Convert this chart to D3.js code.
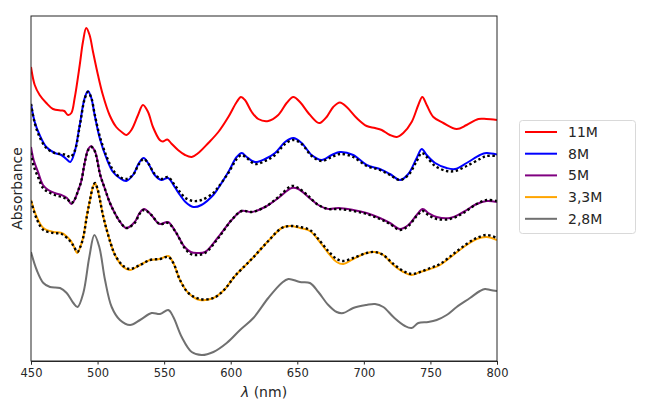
<!DOCTYPE html>
<html>
<head>
<meta charset="utf-8">
<script src="https://cdn.jsdelivr.net/npm/d3@7"></script>
<style>
  html, body { margin: 0; padding: 0; background: #fff; }
  svg { display: block; font-family: "DejaVu Sans", sans-serif; }
</style>
</head>
<body>
<svg id="chart" width="645" height="402"></svg>
<script>
// ---------- data ----------
const xTicks = [450, 500, 550, 600, 650, 700, 750, 800];
const seriesNames = ["11M", "8M", "5M", "3,3M", "2,8M"];
const seriesColors = ["#ff0000", "#0000ff", "#800080", "#ffa500", "#707070"];

const lam11 = [450,452.8,456.5,461.5,466.5,472.8,475,477.8,480.3,482.8,486.6,489,491.5,494,496.6,500.3,504,509,514,519,521.6,525.4,530.4,534.1,537.9,541.6,546.7,549,552.4,555.4,560.4,565.7,570.7,575.7,583.2,590.7,598.2,604.5,607.7,610.7,615.8,620.7,628.2,635.7,642,647,652,658.3,664.6,667,672,677,682,687.1,694.6,702.1,708.4,713.4,719.6,724.7,729.6,735.9,740.9,743.9,747.2,752.2,759.7,769.7,777.2,786,792,800];
const abs11 = [2.94,2.76,2.66,2.58,2.52,2.505,2.50,2.46,2.48,2.63,2.96,3.19,3.33,3.26,3.09,2.86,2.66,2.46,2.34,2.28,2.26,2.31,2.46,2.56,2.49,2.34,2.21,2.195,2.215,2.175,2.11,2.06,2.04,2.08,2.18,2.29,2.44,2.59,2.64,2.61,2.49,2.42,2.40,2.46,2.58,2.64,2.59,2.48,2.39,2.38,2.44,2.54,2.585,2.54,2.43,2.35,2.33,2.31,2.26,2.24,2.28,2.39,2.56,2.64,2.56,2.44,2.38,2.32,2.36,2.42,2.42,2.41];

const lam8 = [450,452.8,456.5,461.5,467.8,472.8,476.5,479.5,482.8,486.6,490.3,492.8,495.3,497.8,501.6,506.6,511.6,516.6,521.6,526.6,531.1,534.6,537.9,542.9,547.9,552.9,557.9,561.9,566,571.9,578,586.9,590.7,598.2,604.5,608.3,612,618.2,625.8,633.3,640.8,647,653.3,660.8,668.3,675.9,682.1,692,702.1,712,719.6,727.1,733.4,739.7,743.5,747.2,753.5,762.2,768.5,777.2,787.2,792,800];
const abs8 = [2.57,2.39,2.26,2.14,2.08,2.06,2.02,1.99,2.09,2.36,2.63,2.70,2.63,2.46,2.23,2.03,1.89,1.83,1.80,1.86,1.98,2.03,1.98,1.86,1.81,1.83,1.74,1.66,1.59,1.54,1.56,1.66,1.73,1.89,2.04,2.08,2.04,1.99,2.02,2.08,2.19,2.23,2.18,2.06,2.01,2.06,2.09,2.06,1.96,1.92,1.87,1.81,1.87,2.03,2.12,2.06,1.98,1.93,1.92,1.98,2.06,2.08,2.065];
const fit8 = [2.57,2.38,2.24,2.13,2.08,2.07,2.06,2.04,2.10,2.35,2.62,2.69,2.63,2.47,2.25,2.05,1.91,1.84,1.82,1.86,1.97,2.02,1.98,1.87,1.82,1.84,1.76,1.69,1.63,1.60,1.61,1.68,1.74,1.88,2.02,2.06,2.03,1.97,2.00,2.06,2.17,2.21,2.17,2.05,2.00,2.04,2.07,2.04,1.95,1.91,1.86,1.81,1.86,2.00,2.08,2.04,1.95,1.90,1.90,1.95,2.02,2.05,2.05];

const lam5 = [450,452,455.3,459,463,467.8,472.8,477,480.3,483,485.3,487.8,490.3,493,495.3,497.5,499,502,505.3,509,512.9,517,521.6,527.9,531.5,534.9,540.4,546.6,552.9,559.1,565.4,570,574.5,580.7,590.7,600.7,608.2,615.8,625.8,635.8,645.8,650.8,658.3,665.8,673.3,680.8,692,702,712,719.6,727.1,733.4,739.7,744.2,748.4,754.7,764.7,774.7,784.7,792.2,800];
const abs5 = [2.14,2.01,1.89,1.76,1.71,1.68,1.66,1.63,1.57,1.62,1.70,1.80,1.98,2.12,2.15,2.11,2.06,1.86,1.73,1.59,1.48,1.39,1.33,1.39,1.48,1.52,1.46,1.37,1.39,1.28,1.14,1.09,1.08,1.09,1.24,1.41,1.50,1.49,1.54,1.63,1.73,1.72,1.64,1.56,1.52,1.53,1.51,1.48,1.43,1.38,1.32,1.36,1.46,1.52,1.48,1.44,1.43,1.49,1.57,1.60,1.59];
const fit5 = [2.08,1.95,1.84,1.73,1.69,1.66,1.64,1.62,1.58,1.62,1.70,1.80,1.98,2.11,2.14,2.11,2.05,1.86,1.73,1.59,1.48,1.39,1.33,1.38,1.47,1.51,1.46,1.37,1.38,1.28,1.13,1.07,1.06,1.08,1.23,1.41,1.50,1.49,1.54,1.64,1.75,1.73,1.65,1.56,1.52,1.52,1.50,1.47,1.42,1.37,1.31,1.35,1.45,1.50,1.46,1.42,1.42,1.48,1.57,1.61,1.60];

const lam3 = [450,454.3,459.3,466.8,473,479.3,482,484.8,487,489.3,492,494.3,496.5,498.1,500,501.8,504,506.9,510,513.1,519.3,524.4,531.9,539.4,546.9,553.1,556.9,561.9,568.2,576.9,587,595,603.2,615.8,628.2,638.3,644.5,652,659.5,665.8,673.3,679.6,684.6,692,702,708.4,714.6,722.2,729.6,735.9,742.2,749.7,757.2,767.2,777.2,784.7,792.2,800];
const abs3 = [1.61,1.44,1.33,1.29,1.28,1.21,1.15,1.08,1.14,1.24,1.46,1.61,1.74,1.78,1.71,1.61,1.46,1.31,1.17,1.06,0.94,0.91,0.96,1.01,1.02,1.05,0.98,0.81,0.68,0.61,0.63,0.71,0.85,1.02,1.20,1.33,1.35,1.33,1.30,1.21,1.08,0.99,0.97,1.02,1.08,1.09,1.06,0.96,0.89,0.86,0.89,0.92,0.96,1.06,1.16,1.22,1.24,1.21];
const fit3 = [1.60,1.42,1.31,1.28,1.27,1.20,1.15,1.09,1.14,1.24,1.45,1.61,1.74,1.78,1.72,1.61,1.46,1.31,1.17,1.06,0.95,0.92,0.96,1.01,1.02,1.04,0.98,0.81,0.68,0.62,0.63,0.71,0.85,1.02,1.20,1.33,1.35,1.34,1.31,1.22,1.10,1.02,1.00,1.03,1.08,1.09,1.06,0.97,0.90,0.87,0.89,0.93,0.97,1.07,1.17,1.23,1.26,1.23];

const lam28 = [450,454.3,459.3,464.3,471.8,476.8,481.8,485,489.3,493.8,497.6,501.3,505.6,510.6,516.8,524.4,531.9,540.6,546.9,553.1,556.9,563.2,570.7,578.2,587,597,607,617,628.2,638.3,643.3,652,659.5,665.8,673.3,679.6,684.6,692,702,708.4,714.6,722.2,730.9,735.9,740.9,748.4,754.7,762.2,769.7,779.7,787.2,791,795,800];
const abs28 = [1.09,0.91,0.78,0.74,0.73,0.68,0.58,0.54,0.68,1.04,1.26,1.14,0.81,0.54,0.41,0.36,0.41,0.48,0.47,0.51,0.44,0.24,0.09,0.06,0.09,0.18,0.31,0.43,0.63,0.78,0.82,0.79,0.78,0.69,0.56,0.49,0.48,0.53,0.56,0.57,0.54,0.44,0.35,0.33,0.38,0.39,0.41,0.46,0.54,0.63,0.70,0.72,0.71,0.70];

// ---------- layout ----------
const svg = d3.select("#chart");
const L = 31, R = 497, T = 16, B = 361;

const x = d3.scaleLinear().domain([450, 800]).range([L, R]);
const y = d3.scaleLinear().domain([0, 3.45]).range([B, T]);

const zip = (xs, ys) => d3.range(Math.min(xs.length, ys.length)).map(i => [xs[i], ys[i]]);
const line = d3.line().x(d => x(d[0])).y(d => y(d[1])).curve(d3.curveCatmullRom.alpha(0.5));

const plot = svg.append("g");
plot.append("defs").append("clipPath").attr("id", "clip")
  .append("rect").attr("x", L).attr("y", T).attr("width", R - L).attr("height", B - T);
const g = plot.append("g").attr("clip-path", "url(#clip)");

const solid = [[lam11, abs11], [lam8, abs8], [lam5, abs5], [lam3, abs3], [lam28, abs28]];
const fits = { 1: [lam8, fit8], 2: [lam5, fit5], 3: [lam3, fit3] };

solid.forEach((s, i) => {
  g.append("path").datum(zip(s[0], s[1]))
    .attr("d", line).attr("fill", "none")
    .attr("stroke", seriesColors[i]).attr("stroke-width", 2)
    .attr("stroke-linejoin", "round").attr("stroke-linecap", "butt");
  if (fits[i]) {
    g.append("path").datum(zip(fits[i][0], fits[i][1]))
      .attr("d", line).attr("fill", "none")
      .attr("stroke", "#000").attr("stroke-width", 2.4)
      .attr("stroke-dasharray", "2.4,2.6");
  }
});

// ---------- axes ----------
const frameColor = "#262626";
svg.append("rect").attr("x", L).attr("y", T).attr("width", R - L).attr("height", B - T)
  .attr("fill", "none").attr("stroke", frameColor).attr("stroke-width", 1);

const xAxis = svg.append("g").attr("transform", `translate(0,${B})`)
  .call(d3.axisBottom(x).tickValues(xTicks).tickSize(3.5).tickPadding(4).tickFormat(d3.format("d")));
xAxis.select(".domain").attr("stroke", frameColor);
xAxis.selectAll(".tick line").attr("stroke", frameColor);
xAxis.selectAll(".tick text").attr("font-size", 11.5).attr("fill", "#262626")
  .attr("font-family", "DejaVu Sans, sans-serif");

// x label
const xl = svg.append("text").attr("x", (L + R) / 2).attr("y", 397)
  .attr("text-anchor", "middle").attr("font-size", 14).attr("fill", "#262626");
xl.append("tspan").attr("font-style", "italic").text("λ");
xl.append("tspan").text(" (nm)");

// y label
svg.append("text").attr("transform", `translate(22,${(T + B) / 2}) rotate(-90)`)
  .attr("text-anchor", "middle").attr("font-size", 14).attr("fill", "#262626")
  .text("Absorbance");

// ---------- legend ----------
const lg = svg.append("g");
lg.append("rect").attr("x", 519.5).attr("y", 120.5).attr("width", 116).attr("height", 113)
  .attr("rx", 3).attr("fill", "#fff").attr("stroke", "#d9d9d9").attr("stroke-width", 1);
seriesNames.forEach((name, i) => {
  const yy = 132 + i * 21.7;
  lg.append("line").attr("x1", 525).attr("x2", 557).attr("y1", yy).attr("y2", yy)
    .attr("stroke", seriesColors[i]).attr("stroke-width", 2);
  lg.append("text").attr("x", 568).attr("y", yy).attr("dy", "0.36em")
    .attr("font-size", 14).attr("fill", "#262626").text(name);
});
</script>
</body>
</html>
